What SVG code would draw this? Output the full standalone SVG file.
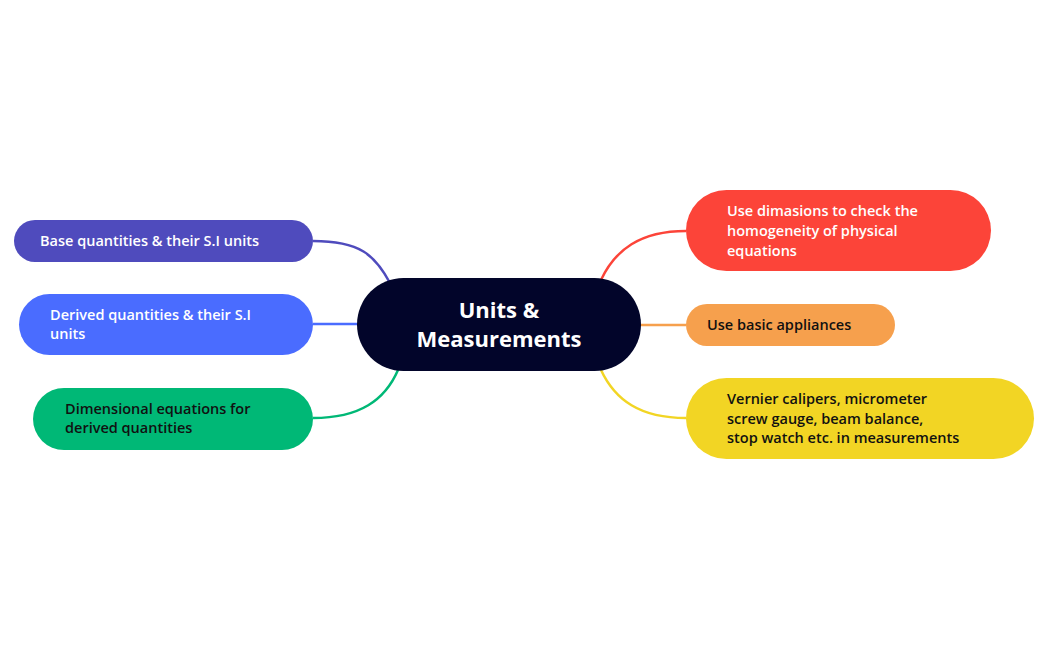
<svg xmlns="http://www.w3.org/2000/svg" width="1049" height="650" viewBox="0 0 1049 650">
<style>
text{font-family:"Open Sans","Noto Sans",sans-serif;font-weight:600;font-size:14.5px}
.w{fill:#fff}.d{fill:#111}
.c{fill:none;stroke-width:2.5}
</style>
<rect width="1049" height="650" fill="#fff"/>
<g id="connectors">
<path class="c" stroke="#4f4bbd" d="M313,241 C360,241 375,255 390,283"/>
<path class="c" stroke="#4a6cff" d="M313,324 H357"/>
<path class="c" stroke="#00b876" d="M313,418 C360,418 385,400 398,370"/>
<path class="c" stroke="#fc4439" d="M686,231 C640,231 615,250 601,280"/>
<path class="c" stroke="#f6a04d" d="M641,325 H686"/>
<path class="c" stroke="#f2d524" d="M686,418 C640,418 615,400 601,370"/>
</g>
<g id="center"><rect x="357" y="278" width="284" height="93" rx="46.5" fill="#02052a"/>
<text class="w" x="499" y="318" text-anchor="middle" style="font-size:22px;font-weight:700">Units &amp;</text>
<text class="w" x="499" y="347" text-anchor="middle" style="font-size:22px;font-weight:700">Measurements</text></g>
<g id="base"><rect x="14" y="220" width="299" height="42" rx="21" fill="#4f4bbd"/>
<text class="w" x="40" y="246">Base quantities &amp; their S.I units</text></g>
<g id="derived"><rect x="19" y="294" width="294" height="61" rx="30.5" fill="#4a6cff"/>
<text class="w" x="50" y="320">Derived quantities &amp; their S.I</text><text class="w" x="50" y="339">units</text></g>
<g id="dimensional"><rect x="33" y="388" width="280" height="62" rx="31" fill="#00b876"/>
<text class="d" x="65" y="414">Dimensional equations for</text><text class="d" x="65" y="433">derived quantities</text></g>
<g id="homogeneity"><rect x="686" y="190" width="305" height="81" rx="40.5" fill="#fc4439"/>
<text class="w" x="727" y="216">Use dimasions to check the</text><text class="w" x="727" y="236">homogeneity of physical</text><text class="w" x="727" y="256">equations</text></g>
<g id="appliances"><rect x="686" y="304" width="209" height="42" rx="21" fill="#f6a04d"/>
<text class="d" x="707" y="330">Use basic appliances</text></g>
<g id="vernier"><rect x="686" y="378" width="348" height="81" rx="40.5" fill="#f2d524"/>
<text class="d" x="727" y="404">Vernier calipers, micrometer</text><text class="d" x="727" y="424">screw gauge, beam balance,</text><text class="d" x="727" y="443">stop watch etc. in measurements</text></g>
</svg>
